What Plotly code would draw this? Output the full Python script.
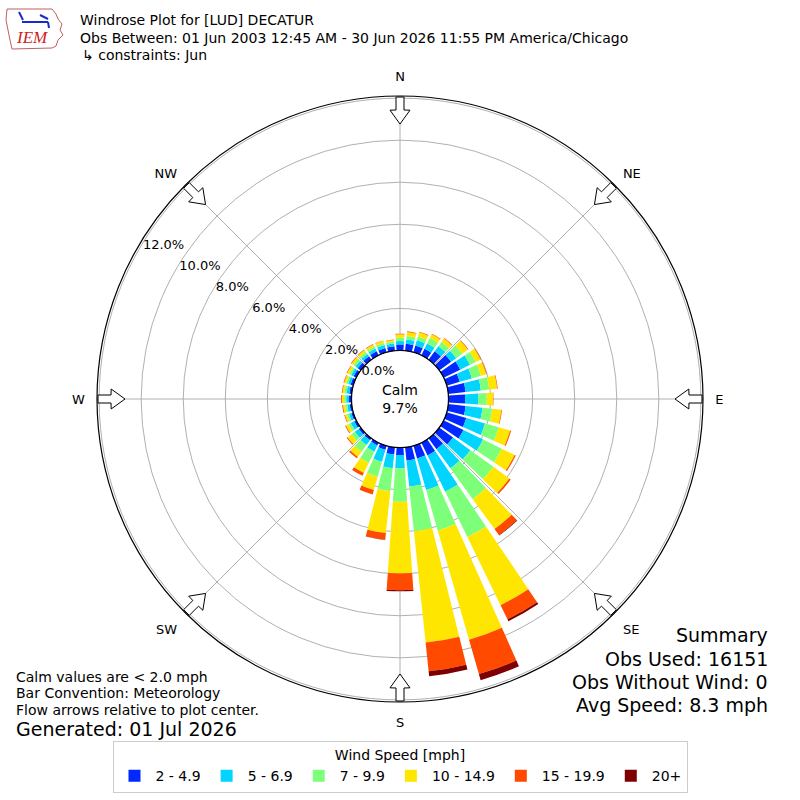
import math
import plotly.graph_objects as go

# ---------------- data ----------------
directions = list(range(0, 360, 10))
speed_bins = ["2 - 4.9", "5 - 6.9", "7 - 9.9", "10 - 14.9", "15 - 19.9", "20+"]
bin_colors = ["#0028ff", "#00d4ff", "#7dff7a", "#ffe600", "#ff4a00", "#7f0000"]

# percent frequency per direction (0..350 by 10) for each speed bin
pct_2_49 = [0.29, 0.33, 0.34, 0.35, 0.50, 0.70, 0.88, 0.65, 0.83, 0.79, 0.83, 0.97,
            1.05, 0.81, 0.64, 0.68, 0.64, 0.64, 0.36, 0.35, 0.20, 0.15, 0.12, 0.12,
            0.12, 0.10, 0.10, 0.12, 0.12, 0.14, 0.15, 0.18, 0.20, 0.22, 0.22, 0.22]
pct_5_69 = [0.16, 0.21, 0.26, 0.28, 0.30, 0.30, 0.52, 0.60, 0.73, 0.63, 0.81, 0.93,
            1.04, 1.02, 1.13, 1.92, 1.56, 1.24, 0.63, 0.65, 0.60, 0.33, 0.28, 0.23,
            0.18, 0.12, 0.12, 0.13, 0.13, 0.12, 0.13, 0.14, 0.14, 0.14, 0.14, 0.13]
pct_7_99 = [0.16, 0.16, 0.19, 0.29, 0.25, 0.35, 0.30, 0.45, 0.40, 0.40, 0.46, 0.68,
            0.99, 1.35, 1.81, 2.40, 2.00, 2.14, 1.59, 1.10, 0.75, 0.60, 0.40, 0.20,
            0.12, 0.10, 0.10, 0.10, 0.10, 0.10, 0.10, 0.12, 0.12, 0.11, 0.11, 0.09]
pct_10_149 = [0.16, 0.20, 0.20, 0.20, 0.20, 0.33, 0.26, 0.26, 0.38, 0.30, 0.44, 0.56,
              0.68, 0.94, 1.76, 3.60, 5.40, 5.32, 3.41, 2.00, 0.65, 0.53, 0.30, 0.23,
              0.14, 0.10, 0.10, 0.11, 0.10, 0.10, 0.11, 0.11, 0.11, 0.11, 0.10, 0.08]
pct_15_199 = [0.03, 0.03, 0.03, 0.03, 0.03, 0.03, 0.03, 0.03, 0.03, 0.02, 0.03, 0.05,
              0.06, 0.08, 0.35, 0.75, 1.70, 1.37, 0.80, 0.32, 0.22, 0.15, 0.08, 0.05,
              0.04, 0.03, 0.04, 0.04, 0.03, 0.03, 0.03, 0.03, 0.03, 0.03, 0.02, 0.02]
pct_20p = [0.00, 0.00, 0.00, 0.00, 0.00, 0.00, 0.00, 0.00, 0.00, 0.00, 0.00, 0.00,
           0.00, 0.00, 0.03, 0.10, 0.30, 0.24, 0.05, 0.01, 0.00, 0.00, 0.00, 0.00,
           0.00, 0.00, 0.00, 0.00, 0.00, 0.00, 0.00, 0.00, 0.00, 0.00, 0.00, 0.00]
series = [pct_2_49, pct_5_69, pct_7_99, pct_10_149, pct_15_199, pct_20p]

radial_ticks = [0, 2, 4, 6, 8, 10, 12]
radial_ticktext = ["0.0%", "2.0%", "4.0%", "6.0%", "8.0%", "10.0%", "12.0%"]
compass_vals = [0, 45, 90, 135, 180, 225, 270, 315]
compass_text = ["N", "NE", "E", "SE", "S", "SW", "W", "NW"]
calm_pct = "9.7%"

FONT = "DejaVu Sans"
W = H = 800
CX, CY = 400, 399
R_OUT = 303.0
R_HOLE = 48.5
RMAX = 12.1
RAX_ANGLE = 150

fig = go.Figure()

for name, vals, col in zip(speed_bins, series, bin_colors):
    fig.add_trace(go.Barpolar(
        r=vals, theta=directions, width=[8] * len(directions), name=name,
        marker=dict(color=col, line=dict(width=0)),
    ))

# calm circle outline (at r = 0, the hole edge)
fig.add_trace(go.Scatterpolar(
    r=[0] * 361, theta=list(range(361)), mode="lines",
    line=dict(color="black", width=1.2), showlegend=False, hoverinfo="skip"))

# flow arrows at compass points (decorative, pointing to centre)
arrow_local = [(0, -4), (13, -4), (13, -10), (27, 0), (13, 10), (13, 4), (0, 4), (0, -4)]
for d in compass_vals:
    rr, tt = [], []
    for u, v in arrow_local:
        rpx = R_OUT - 1 - u
        ang = math.degrees(math.atan2(v, rpx))
        rr.append((rpx - R_HOLE) / (R_OUT - R_HOLE) * RMAX)
        tt.append(d + ang)
    fig.add_trace(go.Scatterpolar(
        r=rr, theta=tt, mode="lines", fill="toself", fillcolor="white",
        line=dict(color="black", width=1), showlegend=False, hoverinfo="skip"))

def px(x, y):
    return x / W, 1 - y / H

dom_x = [(CX - R_OUT) / W, (CX + R_OUT) / W]
dom_y = [1 - (CY + R_OUT) / H, 1 - (CY - R_OUT) / H]

fig.update_layout(
    width=W, height=H, margin=dict(l=0, r=0, t=0, b=0),
    paper_bgcolor="white", plot_bgcolor="white",
    font=dict(family=FONT, size=13, color="black"),
    polar=dict(
        domain=dict(x=dom_x, y=dom_y),
        hole=R_HOLE / R_OUT,
        bgcolor="white",
        barmode="stack",
        radialaxis=dict(range=[0, RMAX], tickvals=radial_ticks, ticktext=radial_ticktext,
                        showline=False, gridcolor="#b0b0b0", gridwidth=1, angle=RAX_ANGLE,
                        tickangle=RAX_ANGLE, ticks="", tickfont=dict(size=13, family=FONT)),
        angularaxis=dict(rotation=90, direction="clockwise", tickvals=compass_vals,
                         ticktext=compass_text, showline=True, linecolor="black", linewidth=1.2,
                         gridcolor="#b0b0b0", gridwidth=1, ticks="outside", ticklen=9,
                         tickcolor="rgba(0,0,0,0)", tickfont=dict(size=13, family=FONT)),
    ),
    legend=dict(orientation="h", x=0.5, xanchor="center", y=1 - 741 / H, yanchor="top",
                bordercolor="#cccccc", borderwidth=1, font=dict(size=14, family=FONT),
                title=dict(text="Wind Speed [mph]", side="top center", font=dict(size=14)),
                itemwidth=32, traceorder="normal"),
)

ann = []
def text(x, y, s, size=13, xanchor="left", yanchor="middle", **kw):
    xx, yy = px(x, y)
    ann.append(dict(x=xx, y=yy, xref="paper", yref="paper", text=s, showarrow=False,
                    xanchor=xanchor, yanchor=yanchor, font=dict(size=size, family=FONT, **kw)))

text(78, 20, "Windrose Plot for [LUD] DECATUR", 14)
text(78, 38, "Obs Between: 01 Jun 2003 12:45 AM - 30 Jun 2026 11:55 PM America/Chicago", 14)
text(80, 55, "↳ constraints: Jun", 14)
text(CX, CY, "Calm<br>" + calm_pct, 14, xanchor="center")
text(14, 677, "Calm values are &lt; 2.0 mph", 14)
text(14, 693, "Bar Convention: Meteorology", 14)
text(14, 710, "Flow arrows relative to plot center.", 14)
text(14, 729, "Generated: 01 Jul 2026", 19)
text(770, 635, "Summary", 19, xanchor="right")
text(770, 659, "Obs Used: 16151", 19, xanchor="right")
text(770, 682, "Obs Without Wind: 0", 19, xanchor="right")
text(770, 705, "Avg Speed: 8.3 mph", 19, xanchor="right")
# IEM logo lettering
xx, yy = px(32, 38)
ann.append(dict(x=xx, y=yy, xref="paper", yref="paper", text="<i>IEM</i>", showarrow=False,
                xanchor="center", yanchor="middle",
                font=dict(size=17, family="Liberation Serif", color="#cc2222")))
fig.update_layout(annotations=ann)

# simple logo outline and station glyph
outline = [(7, 9), (52, 9), (56, 14), (58, 19), (62, 24), (60, 30), (63, 35), (58, 40),
           (56, 46), (52, 48), (12, 49), (10, 40), (8, 30), (6, 20), (7, 9)]
path = "M " + " L ".join(f"{x / W:.5f},{1 - y / H:.5f}" for x, y in outline) + " Z"
shapes = [dict(type="path", path=path, xref="paper", yref="paper",
               line=dict(color="#c06060", width=1))]
for (x0, y0, x1, y1) in [(22, 22, 48, 22), (19, 12, 23, 20), (40, 15, 48, 19), (48, 22, 49, 28)]:
    a0, b0 = px(x0, y0)
    a1, b1 = px(x1, y1)
    shapes.append(dict(type="line", x0=a0, y0=b0, x1=a1, y1=b1, xref="paper", yref="paper",
                       line=dict(color="#1a2ad0", width=2)))
fig.update_layout(shapes=shapes)

fig.write_html("out.html", config={"displayModeBar": False},
               post_script="document.body.style.margin='0px';")
